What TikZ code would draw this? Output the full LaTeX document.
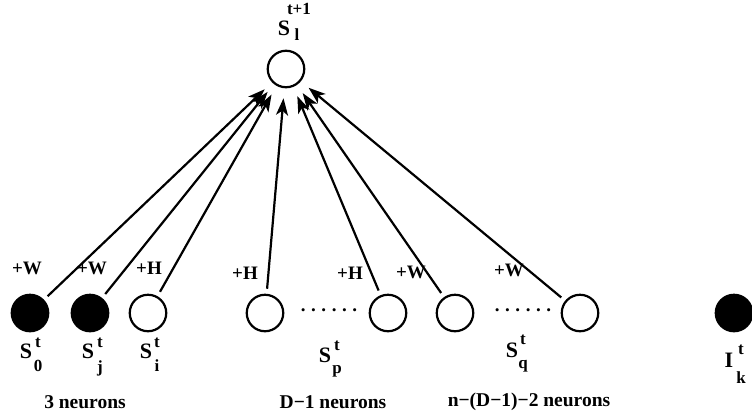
\documentclass[tikz,border=0pt]{standalone}
\usepackage{fontspec}
\setmainfont{Liberation Serif}
\usetikzlibrary{arrows.meta}
\begin{document}
\begin{tikzpicture}[x=1pt,y=-1pt,
  neuron/.style={circle,draw,line width=2.2pt,minimum size=36.5pt,inner sep=0pt},
  filledneuron/.style={neuron,fill=black},
  big/.style={font=\fontsize{22}{25}\selectfont\bfseries,inner sep=0pt},
  caption/.style={font=\fontsize{19.5}{23}\selectfont\bfseries,inner sep=0pt},
  small/.style={font=\fontsize{17}{20}\selectfont\bfseries,inner sep=0pt},
  wlabel/.style={font=\fontsize{19}{22}\selectfont\bfseries,inner sep=0pt},
  conn/.style={line width=2.2pt,-{Stealth[length=17pt,width=12pt,inset=4.5pt]},shorten <=5pt,shorten >=10pt},
  dotrow/.style={font=\fontsize{19}{22}\selectfont\bfseries,inner sep=0pt}]
\useasboundingbox (0,0) rectangle (752,418);
\clip (0,0) rectangle (752,418);
% neurons
\node[neuron] (top) at (286,69) {};
\node[filledneuron] (n0) at (30,313) {};
\node[filledneuron] (nj) at (90,313) {};
\node[neuron] (ni) at (148,313) {};
\node[neuron] (na) at (265,313) {};
\node[neuron] (nb) at (388,313) {};
\node[neuron] (nc) at (455,313) {};
\node[neuron] (nd) at (580,313) {};
\node[filledneuron] (nI) at (734,313) {};
% connectors
\foreach \n in {n0,nj,ni,na,nb,nc,nd}
  \draw[conn] (\n) -- (top);
% weight labels
\node[wlabel] (w0) at (27,268) {+W};
\node[wlabel] (wj) at (92,268) {+W};
\node[wlabel] (wi) at (149,268) {+H};
\node[wlabel] (wa) at (245,273) {+H};
\node[wlabel] (wb) at (350,273) {+H};
\node[wlabel] (wc) at (411,272) {+W};
\node[wlabel] (wd) at (509,270) {+W};
% dots
\node[dotrow] (dots1) at (329,310) {.\hspace{5.6pt}.\hspace{5.6pt}.\hspace{5.6pt}.\hspace{5.6pt}.\hspace{5.6pt}.};
\node[dotrow] (dots2) at (523,310) {.\hspace{5.6pt}.\hspace{5.6pt}.\hspace{5.6pt}.\hspace{5.6pt}.\hspace{5.6pt}.};
% top label
\node[big] (Stop) at (284,28) {S};
\node[small] (Stopsup) at (299,9) {t+1};
\node[small] (Stopsub) at (297,35) {l};
% S_0
\node[big] (S0) at (26,351) {S};
\node[small] (S0sup) at (38,343) {t};
\node[small] (S0sub) at (38,366) {0};
% S_j
\node[big] (Sj) at (88,351) {S};
\node[small] (Sjsup) at (100,343) {t};
\node[small] (Sjsub) at (100,368) {j};
% S_i
\node[big] (Si) at (146,351) {S};
\node[small] (Sisup) at (157,343) {t};
\node[small] (Sisub) at (157,366) {i};
% S_p
\node[big] (Sp) at (325,355) {S};
\node[small] (Spsup) at (337,346) {t};
\node[small] (Spsub) at (337,371) {p};
% S_q
\node[big] (Sq) at (512,350) {S};
\node[small] (Sqsup) at (523,340) {t};
\node[small] (Sqsub) at (523,366) {q};
% I_k
\node[big] (Ik) at (729,360) {I};
\node[small] (Iksup) at (741,350) {t};
\node[small] (Iksub) at (741,378) {k};
% captions
\node[caption] (cap1) at (85,402) {3 neurons};
\node[caption] (cap2) at (333,402) {D−1 neurons};
\node[caption] (cap3) at (529,402) {n−(D−1)−2 neurons};
\end{tikzpicture}
\end{document}
